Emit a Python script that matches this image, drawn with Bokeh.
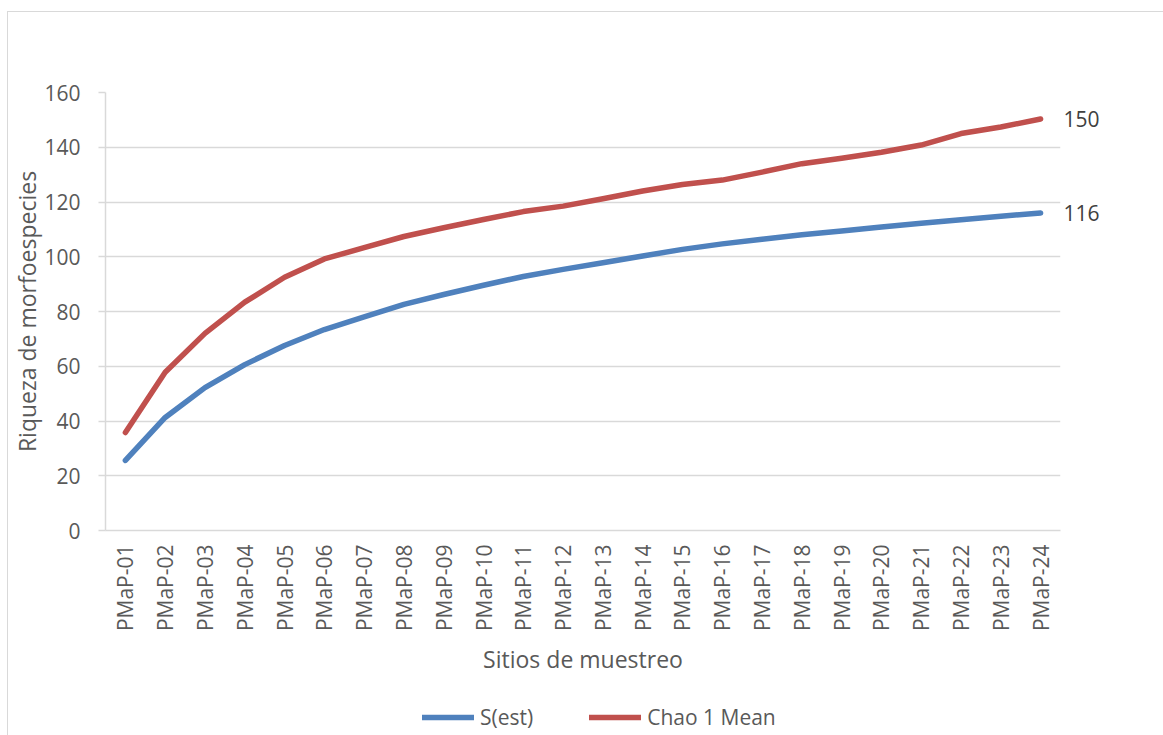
import math
from bokeh.plotting import figure
from bokeh.layouts import column
from bokeh.models import (FactorRange, Range1d, FixedTicker, Legend, LegendItem, ColumnDataSource,
                          LinearAxis, NumeralTickFormatter)
from bokeh.embed import file_html
from bokeh.resources import INLINE

sites = ["PMaP-01", "PMaP-02", "PMaP-03", "PMaP-04", "PMaP-05", "PMaP-06",
         "PMaP-07", "PMaP-08", "PMaP-09", "PMaP-10", "PMaP-11", "PMaP-12",
         "PMaP-13", "PMaP-14", "PMaP-15", "PMaP-16", "PMaP-17", "PMaP-18",
         "PMaP-19", "PMaP-20", "PMaP-21", "PMaP-22", "PMaP-23", "PMaP-24"]
s_est = [25.6, 41.3, 52.2, 60.6, 67.6, 73.4, 78.0, 82.6, 86.2, 89.6, 92.8, 95.4,
         97.8, 100.3, 102.7, 104.7, 106.4, 108.0, 109.4, 110.9, 112.2, 113.5, 114.8, 116.0]
chao1 = [35.8, 57.8, 72.0, 83.4, 92.5, 99.2, 103.3, 107.4, 110.6, 113.6, 116.5, 118.5,
         121.2, 124.0, 126.4, 128.0, 130.9, 134.0, 136.0, 138.2, 140.8, 145.0, 147.4, 150.3]
series_names = ["S(est)", "Chao 1 Mean"]
y_ticks = [0, 20, 40, 60, 80, 100, 120, 140, 160]

FONT = "Open Sans"
TXT = "#595959"
GRID = "#d9d9d9"
BLUE = "#4F81BD"
RED = "#C0504D"

xr = FactorRange(*sites, range_padding=0)
p = figure(x_range=xr, y_range=Range1d(0, 160),
           width=1155, height=668, output_backend="svg", toolbar_location=None,
           min_border_left=95, min_border_right=103, min_border_top=80, min_border_bottom=150)
p.outline_line_color = None
p.xgrid.grid_line_color = None
p.ygrid.grid_line_color = GRID
p.ygrid.grid_line_width = 1.5

p.yaxis.ticker = FixedTicker(ticks=y_ticks)
p.yaxis.axis_line_color = GRID
p.yaxis.axis_line_width = 1.5
p.yaxis.major_tick_line_color = GRID
p.yaxis.major_tick_line_width = 1.5
p.yaxis.major_tick_out = 7
p.yaxis.major_tick_in = 0
p.yaxis.minor_tick_line_color = None
p.yaxis.major_label_standoff = 18
p.yaxis.axis_label = "Riqueza de morfoespecies"
p.yaxis.axis_label_standoff = -2

p.xaxis.axis_line_color = GRID
p.xaxis.axis_line_width = 1.5
p.xaxis.major_tick_line_color = None
p.xaxis.major_tick_out = 0
p.xaxis.major_tick_in = 0
p.xaxis.major_label_orientation = math.pi / 2
p.xaxis.major_label_standoff = 14
p.xaxis.axis_label = "Sitios de muestreo"
p.xaxis.axis_label_standoff = 9

for ax in (p.xaxis[0], p.yaxis[0]):
    ax.major_label_text_font = FONT
    ax.major_label_text_font_size = "21px"
    ax.major_label_text_color = TXT
    ax.axis_label_text_font = FONT
    ax.axis_label_text_font_size = "23px"
    ax.axis_label_text_font_style = "normal"
    ax.axis_label_text_color = TXT

src = ColumnDataSource(dict(x=sites, s=s_est, c=chao1))
r1 = p.line("x", "s", source=src, line_color=BLUE, line_width=5.5, line_cap="round", line_join="round")
r2 = p.line("x", "c", source=src, line_color=RED, line_width=5.5, line_cap="round", line_join="round")

# end-of-series value labels, placed by the y scale on a bare right-hand axis
end_axis = LinearAxis(ticker=FixedTicker(ticks=[s_est[-1], chao1[-1]]),
                      formatter=NumeralTickFormatter(format="0"),
                      axis_line_color=None, major_tick_line_color=None, minor_tick_line_color=None,
                      major_tick_out=0, major_tick_in=0, major_label_standoff=3,
                      major_label_text_font=FONT, major_label_text_font_size="21px",
                      major_label_text_color="#404040")
p.add_layout(end_axis, "right")

# legend strip below the chart (its series lie outside its own y range, so only the keys show)
lg = figure(width=1155, height=55, x_range=xr, y_range=Range1d(0, 1),
            output_backend="svg", toolbar_location=None, x_axis_location=None, y_axis_location=None,
            min_border=0)
lg.outline_line_color = None
lg.grid.visible = False
k1 = lg.line("x", "s", source=src, line_color=BLUE, line_width=5.5, line_cap="round")
k2 = lg.line("x", "c", source=src, line_color=RED, line_width=5.5, line_cap="round")
legend = Legend(items=[LegendItem(label=series_names[0], renderers=[k1]),
                       LegendItem(label=series_names[1], renderers=[k2])],
                orientation="horizontal", location=(317, 4), padding=0, margin=0,
                spacing=56, glyph_width=52, label_standoff=6,
                label_text_font=FONT, label_text_font_size="21px", label_text_color=TXT,
                border_line_color=None, background_fill_alpha=0)
lg.add_layout(legend, "center")

page = column(p, lg, spacing=0)
page.styles = {"border-left": "1px solid #d9d9d9", "border-top": "1px solid #d9d9d9",
               "margin-left": "7px", "margin-top": "11px"}

open("out.html", "w").write(file_html(page, INLINE))
